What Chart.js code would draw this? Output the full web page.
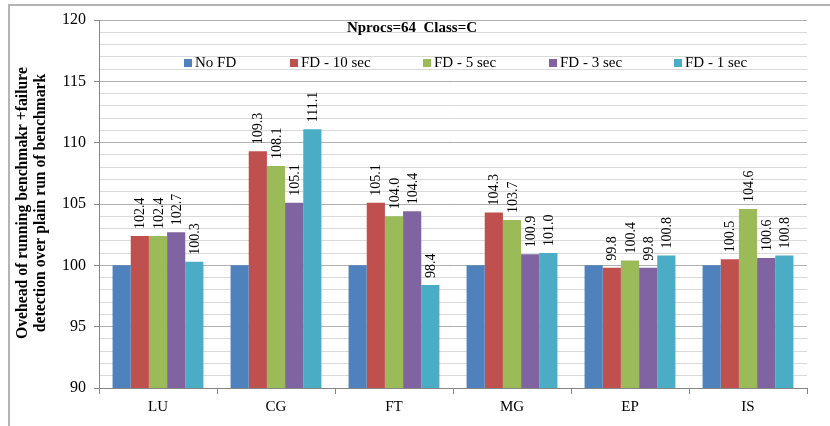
<!DOCTYPE html>
<html>
<head>
<meta charset="utf-8">
<script src="https://cdn.jsdelivr.net/npm/chart.js@4"></script>
<style>
  html, body { margin: 0; padding: 0; background: #fff; }
  canvas { display: block; }
</style>
</head>
<body>
<canvas id="chart" width="830" height="426"></canvas>
<script>
// chart data
const categories = ['LU', 'CG', 'FT', 'MG', 'EP', 'IS'];
const seriesNames = ['No FD', 'FD - 10 sec', 'FD - 5 sec', 'FD - 3 sec', 'FD - 1 sec'];
const noFD  = [100, 100, 100, 100, 100, 100];
const fd10  = [102.4, 109.3, 105.1, 104.3, 99.8, 100.5];
const fd5   = [102.4, 108.1, 104.0, 103.7, 100.4, 104.6];
const fd3   = [102.7, 105.1, 104.4, 100.9, 99.8, 100.6];
const fd1   = [100.3, 111.1, 98.4, 101.0, 100.8, 100.8];
const yTicks = [90, 95, 100, 105, 110, 115, 120];

const colors = ['#4F81BD', '#C0504D', '#9BBB59', '#8064A2', '#4BACC6'];
const serif = "'Liberation Serif', 'Times New Roman', serif";

// frame, title, legend, axis title and value labels
const decor = {
    id: 'decor',
    beforeDraw(chart) {
        const c = chart.ctx;
        c.save();
        c.fillStyle = '#fff';
        c.fillRect(0, 0, chart.width, chart.height);
        c.strokeStyle = '#b4b4b4';
        c.lineWidth = 2;
        c.strokeRect(9, 5, 900, 500);
        c.restore();
    },
    afterDatasetsDraw(chart) {
        const c = chart.ctx;
        c.save();
        c.font = '14px ' + serif;
        c.fillStyle = '#000';
        c.textAlign = 'left';
        c.textBaseline = 'middle';
        chart.data.datasets.forEach((ds, i) => {
            if (i === 0) return;
            chart.getDatasetMeta(i).data.forEach((bar, j) => {
                c.save();
                c.translate(bar.x, bar.y - 7);
                c.rotate(-Math.PI / 2);
                c.fillText(ds.data[j].toFixed(1), 0, 1);
                c.restore();
            });
        });
        c.restore();
    },
    afterDraw(chart) {
        const c = chart.ctx;
        c.save();
        c.fillStyle = '#000';

        // title
        c.font = 'bold 15px ' + serif;
        c.textAlign = 'center';
        c.textBaseline = 'middle';
        c.fillText('Nprocs=64  Class=C', 412, 28);

        // legend
        const legendX = [184, 290, 423, 549, 674];
        c.font = '15px ' + serif;
        c.textAlign = 'left';
        seriesNames.forEach((name, i) => {
            c.fillStyle = colors[i];
            c.fillRect(legendX[i], 59, 8, 8);
            c.fillStyle = '#000';
            c.fillText(name, legendX[i] + 11, 63);
        });

        // y axis title
        c.font = 'bold 15.7px ' + serif;
        c.textAlign = 'center';
        c.translate(23, 203);
        c.rotate(-Math.PI / 2);
        c.fillText('Ovehead of running benchmakr +failure', 0, 0);
        c.fillText('detection over plain run of benchmark', 0, 18);
        c.restore();
    }
};

new Chart(document.getElementById('chart'), {
    type: 'bar',
    data: {
        labels: categories,
        datasets: [noFD, fd10, fd5, fd3, fd1].map((d, i) => ({
            label: seriesNames[i],
            data: d,
            backgroundColor: colors[i],
            borderWidth: 0
        }))
    },
    options: {
        responsive: false,
        animation: false,
        layout: { padding: { left: 0, right: 23, top: 20, bottom: 0 } },
        datasets: { bar: { categoryPercentage: 0.77, barPercentage: 1 } },
        plugins: {
            legend: { display: false },
            title: { display: false },
            tooltip: { enabled: false }
        },
        scales: {
            x: {
                afterFit: s => { s.height = 38; },
                border: { color: '#868686' },
                grid: {
                    drawOnChartArea: false,
                    offset: true,
                    tickLength: 6,
                    tickColor: '#868686'
                },
                ticks: { color: '#000', padding: 4, font: { family: serif, size: 15 } }
            },
            y: {
                min: 90,
                max: 120,
                afterFit: s => { s.width = 99; },
                border: { color: '#868686' },
                grid: {
                    color: ctx => yTicks.includes(ctx.tick.value) ? '#b0b0b0' : '#d9d9d9',
                    tickColor: ctx => yTicks.includes(ctx.tick.value) ? '#868686' : 'rgba(0,0,0,0)',
                    tickLength: 5
                },
                ticks: {
                    stepSize: 1,
                    autoSkip: false,
                    padding: 8,
                    color: '#000',
                    font: { family: serif, size: 16 },
                    callback: v => yTicks.includes(v) ? String(v) : ''
                }
            }
        }
    },
    plugins: [decor]
});
</script>
</body>
</html>
